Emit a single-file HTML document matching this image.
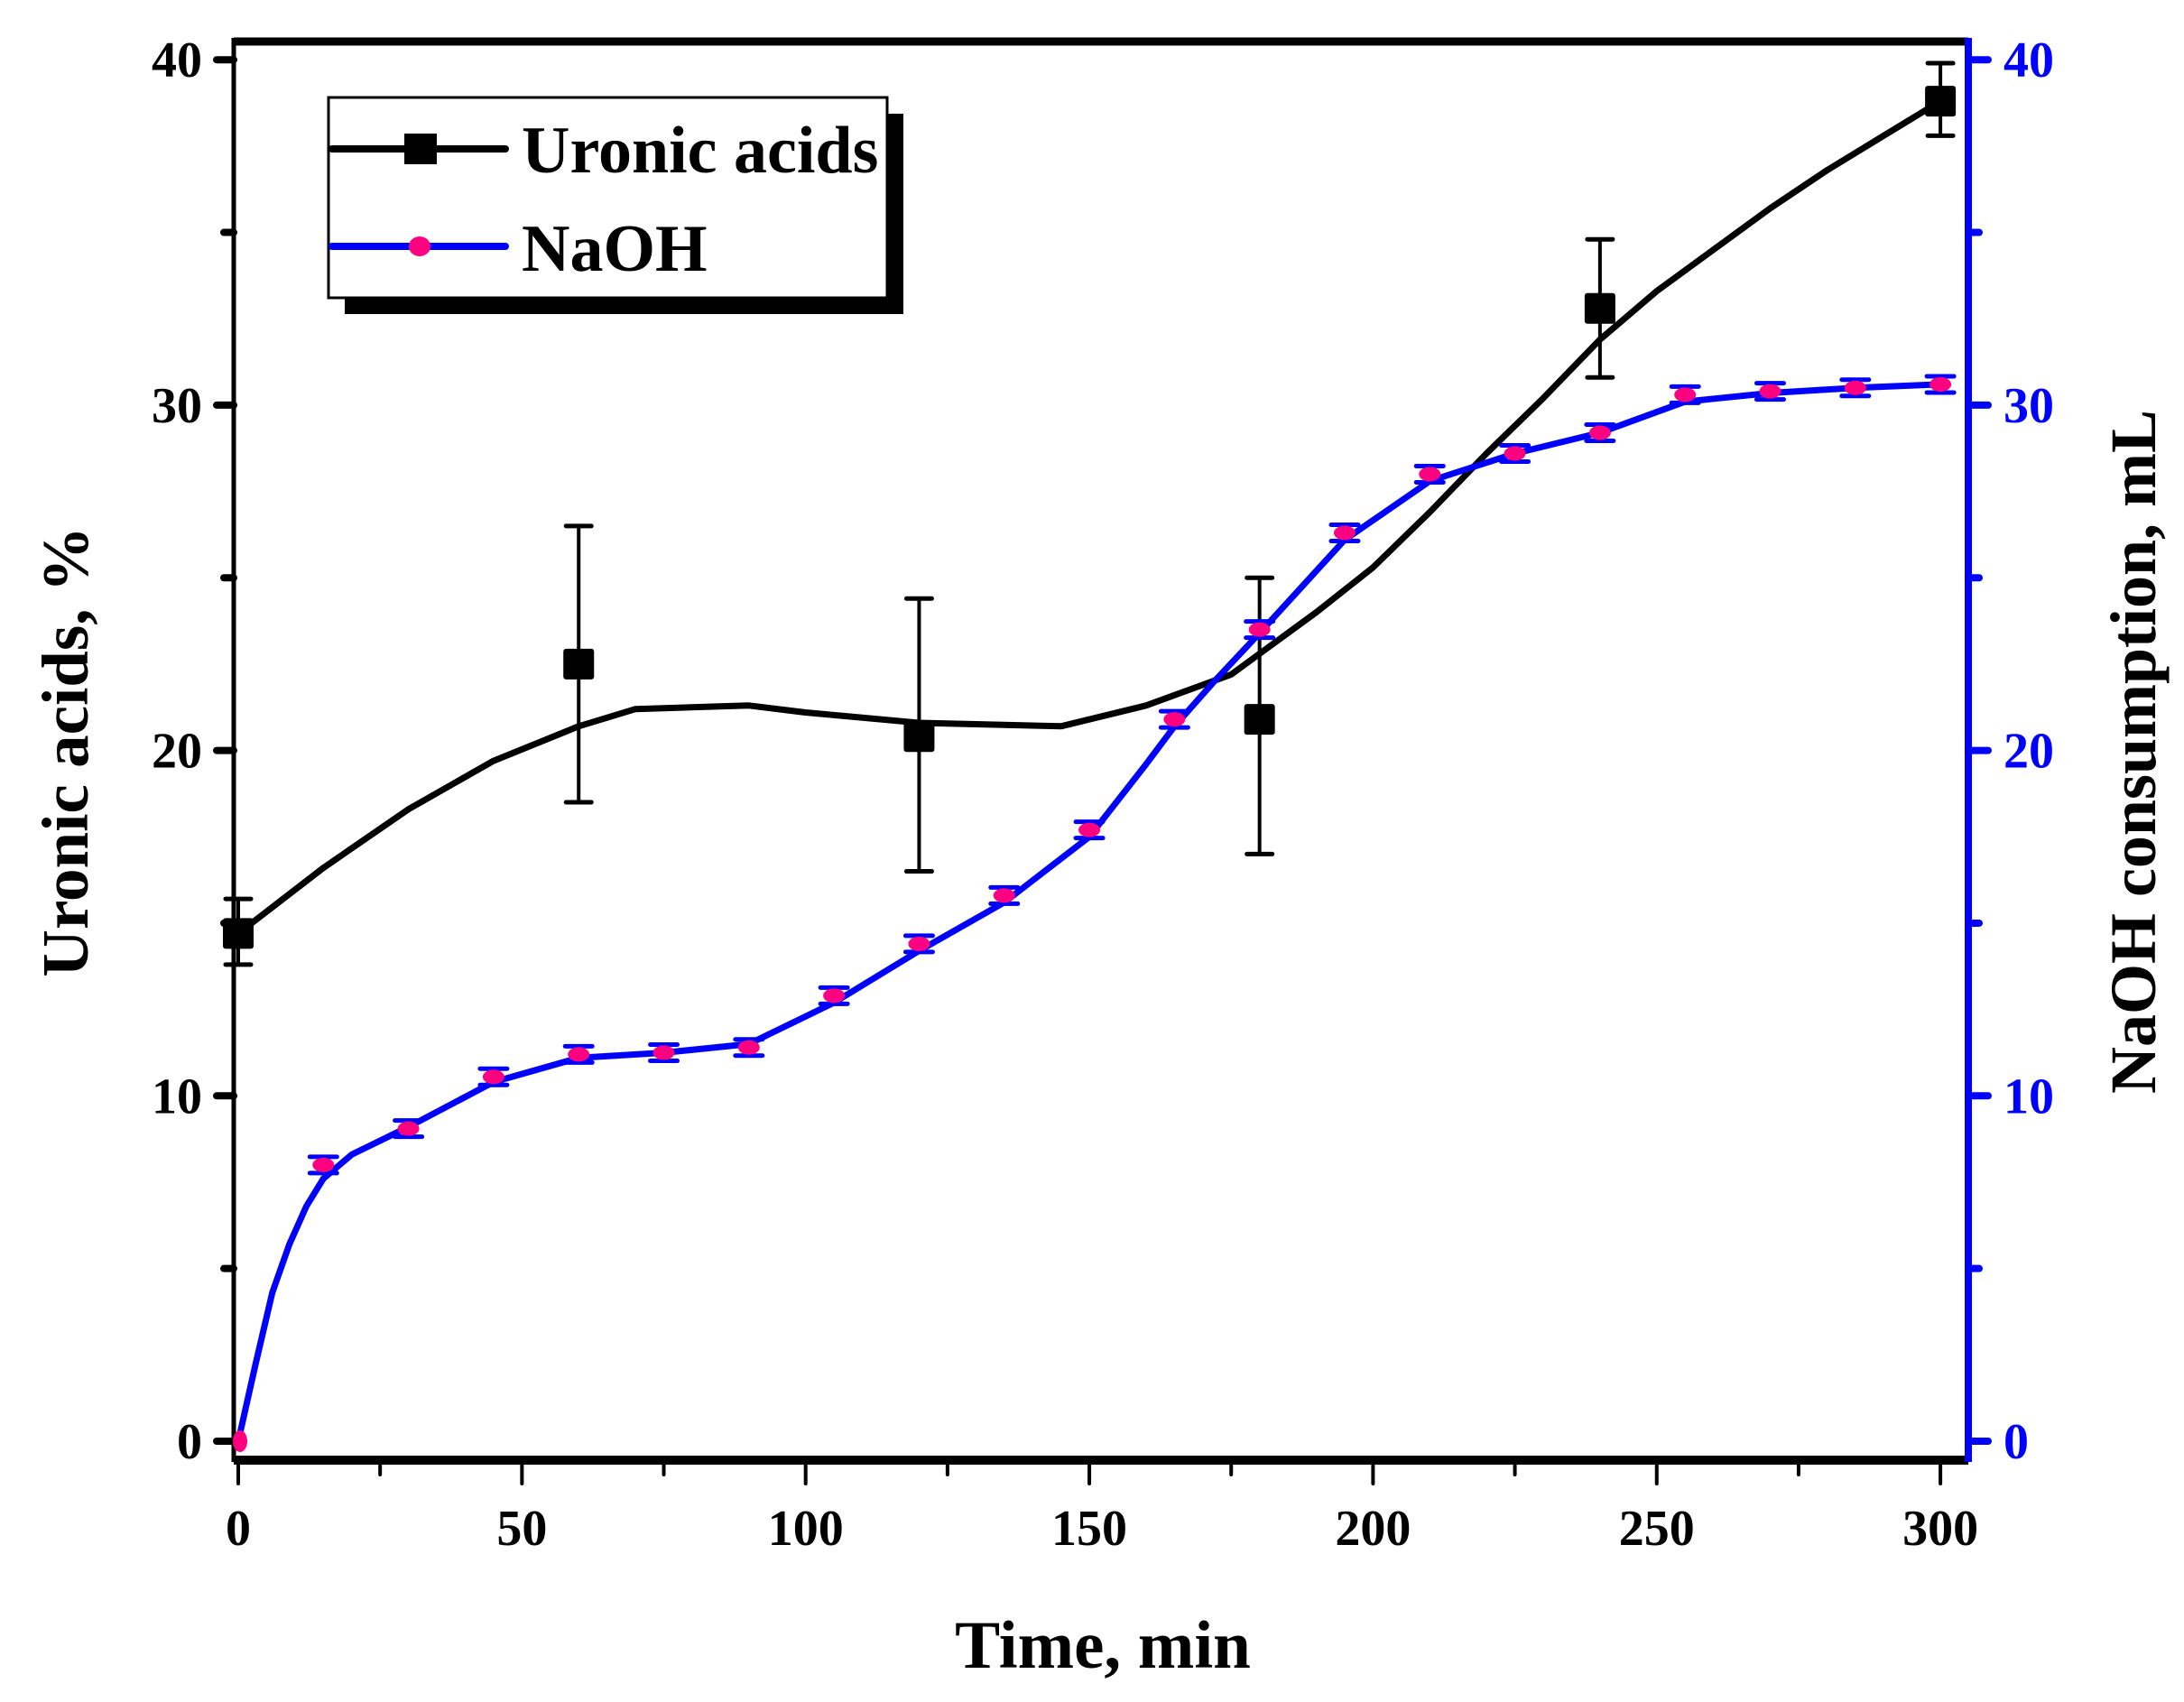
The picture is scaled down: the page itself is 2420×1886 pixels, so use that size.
<!DOCTYPE html>
<html><head><meta charset="utf-8"><style>
html,body{margin:0;padding:0;background:#fff;}
svg{display:block;}
text{font-family:"Liberation Serif",serif;font-weight:bold;}
</style></head><body>
<svg id="s" width="2420" height="1886" viewBox="0 0 2420 1886" xmlns="http://www.w3.org/2000/svg">
<g id="g"></g>
<!-- legend -->
<rect x="382" y="126" width="619" height="222" fill="#000"/>
<rect x="364" y="108" width="619" height="222" fill="#fff" stroke="#000" stroke-width="3"/>
<line x1="368" y1="165" x2="560" y2="165" stroke="#000" stroke-width="8" stroke-linecap="round"/>
<rect x="448" y="148" width="36" height="34" fill="#000"/>
<text x="578" y="191" font-size="74">Uronic acids</text>
<line x1="368" y1="273" x2="560" y2="273" stroke="#0000ff" stroke-width="8" stroke-linecap="round"/>
<ellipse cx="465" cy="273" rx="12" ry="11" fill="#ff0080"/>
<text x="578" y="300" font-size="74">NaOH</text>
<!-- axis titles -->
<text x="1222" y="1848" font-size="75" text-anchor="middle">Time, min</text>
<text transform="translate(97,833) rotate(-90)" font-size="73" text-anchor="middle">Uronic acids, %</text>
<text transform="translate(2388,833) rotate(-90)" font-size="72" text-anchor="middle">NaOH consumption, mL</text>
</svg>
<script>
const g=document.getElementById('g');
const X=t=>264+t*6.287, Y=v=>1597-v*38.27;
let h='';
function L(x1,y1,x2,y2,c,w,cap){h+=`<line x1="${x1}" y1="${y1}" x2="${x2}" y2="${y2}" stroke="${c}" stroke-width="${w}" stroke-linecap="${cap||'round'}"/>`;}
L(259,46,2181,46,'#000',9,'butt');
L(259,42,259,1620,'#000',5,'butt');
L(259,1618,2181,1618,'#000',10,'butt');
L(2181,42,2181,1620,'#0000ff',8,'butt');
for(let v=0;v<=40;v+=5){const y=Y(v);const major=v%10==0;L(major?240:248,y,259,y,'#000',8);
 if(major)h+=`<text x="224" y="${y+19}" font-size="56" text-anchor="end" font-weight="normal">${v}</text>`;
 L(2181,y,major?2203:2193,y,'#0000ff',8);
 if(major)h+=`<text x="2220" y="${y+19}" font-size="56" fill="#0000ff">${v}</text>`;}
for(let t=0;t<=300;t+=25){const x=X(t);const major=t%50==0;L(x,1618,x,major?1644:1634,'#000',4);
 if(major)h+=`<text x="${x}" y="${1712}" font-size="56" text-anchor="middle" font-weight="normal">${t}</text>`;}
function path(pts,c,w){const p=pts.map(a=>X(a[0]).toFixed(1)+','+Y(a[1]).toFixed(1)).join(' ');h+=`<polyline points="${p}" fill="none" stroke="${c}" stroke-width="${w}" stroke-linejoin="round" stroke-linecap="round"/>`;}
const ua=[[0,14.7],[15,16.6],[30,18.3],[45,19.7],[60,20.7],[70,21.2],[90,21.3],[100,21.1],[120,20.8],[145,20.7],[160,21.3],[175,22.2],[190,24],[200,25.3],[210,26.9],[220,28.6],[230,30.2],[240,31.9],[250,33.3],[260,34.5],[270,35.7],[280,36.8],[290,37.8],[300,38.8]];
path(ua,'#000',7);
const na=[[0,0],[3,2.2],[6,4.3],[9,5.7],[12,6.8],[15,7.6],[20,8.3],[30,9.1],[45,10.4],[60,11.1],[75,11.25],[90,11.5],[105,12.7],[120,14.2],[135,15.6],[150,17.5],[160,19.6],[165,20.7],[172,22],[180,23.4],[195,26.1],[210,27.8],[225,28.6],[240,29.2],[255,30.1],[270,30.35],[285,30.5],[300,30.6]];
path(na,'#0000ff',7);
const um=[[0,14.7,13.8,15.7],[60,22.5,18.5,26.5],[120,20.4,16.5,24.4],[180,20.9,17,25],[240,32.8,30.8,34.8],[300,38.8,37.8,39.9]];
um.forEach(m=>{const x=X(m[0]);L(x,Y(m[2]),x,Y(m[3]),'#000',4,'butt');L(x-14,Y(m[2]),x+14,Y(m[2]),'#000',5);L(x-14,Y(m[3]),x+14,Y(m[3]),'#000',5);
 h+=`<rect x="${x-17}" y="${Y(m[1])-17}" width="34" height="34" fill="#000" rx="3"/>`;});
const nm=[[15,8],[30,9.05],[45,10.55],[60,11.2],[75,11.25],[90,11.4],[105,12.9],[120,14.4],[135,15.8],[150,17.7],[165,20.9],[180,23.5],[195,26.3],[210,28],[225,28.6],[240,29.2],[255,30.3],[270,30.4],[285,30.5],[300,30.6]];
nm.forEach(m=>{const x=X(m[0]),y=Y(m[1]);L(x-15,y-9,x+15,y-9,'#0000ff',5);L(x-15,y+9,x+15,y+9,'#0000ff',5);
 h+=`<ellipse cx="${x}" cy="${y}" rx="12" ry="8" fill="#ff0080"/>`;});
h+=`<ellipse cx="${X(0)+2}" cy="${Y(0)}" rx="8" ry="12" fill="#ff0080"/>`;
g.innerHTML=h;
</script>
</body></html>
